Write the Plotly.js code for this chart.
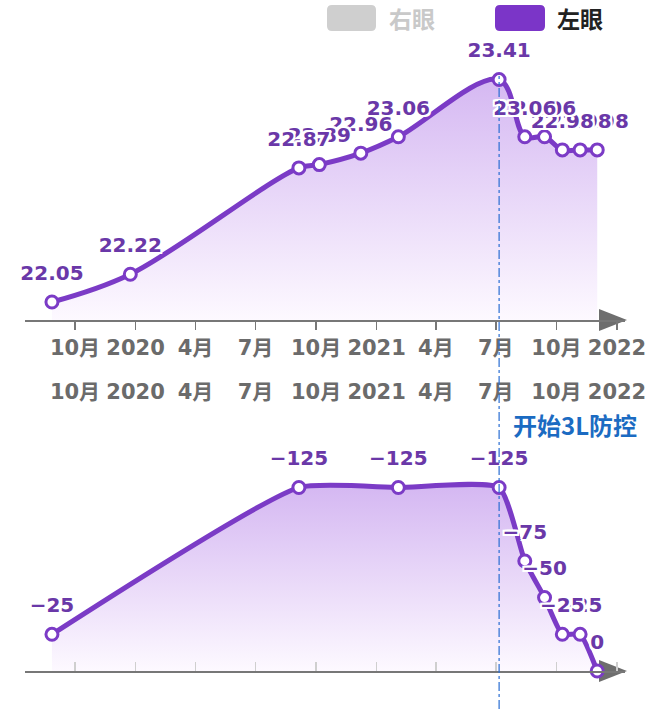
<!DOCTYPE html>
<html>
<head>
<meta charset="utf-8">
<script src="https://cdn.plot.ly/plotly-3.0.1.min.js"></script>
<style>
  html, body { margin: 0; padding: 0; background: #fff; }
  #chart { width: 651px; height: 709px; }
</style>
</head>
<body>
<div id="chart"></div>
<script>
// upper panel: left eye axial length (mm)
const leftDates = ['2019-08-27', '2019-12-24', '2020-09-05', '2020-10-06', '2020-12-08', '2021-02-03',
                   '2021-07-06', '2021-08-14', '2021-09-13', '2021-10-10', '2021-11-06', '2021-12-02'];
const leftAxial = [22.05, 22.22, 22.87, 22.89, 22.96, 23.06, 23.41, 23.06, 23.06, 22.98, 22.98, 22.98];

// lower panel
const lowerDates = ['2019-08-27', '2020-09-05', '2021-02-03', '2021-07-06', '2021-08-14',
                    '2021-09-13', '2021-10-10', '2021-11-06', '2021-12-02'];
const lowerValues = [-25, -125, -125, -125, -75, -50, -25, -25, 0];

const tickDates = ['2019-10-01', '2020-01-01', '2020-04-01', '2020-07-01', '2020-10-01',
                   '2021-01-01', '2021-04-01', '2021-07-01', '2021-10-01', '2022-01-01'];
const tickLabels = ['10月', '2020', '4月', '7月', '10月', '2021', '4月', '7月', '10月', '2022'];
const legendNames = ['右眼', '左眼'];
const startDate = '2021-07-06';
const noteText = '开始3L防控';

const W = 651, H = 709;
const px = x => x / W;
const py = y => 1 - y / H;

const purple = '#7b3bc6';
const labelPurple = '#6a38a8';
const xRange = ['2019-07-17 02:00', '2022-01-13 04:00'];
const tickFont = { family: 'DejaVu Sans, Noto Sans CJK SC', size: 21, weight: 'bold', color: '#6b6b6b' };
const halo = ['2px 0 0 #fff', '-2px 0 0 #fff', '0 2px 0 #fff', '0 -2px 0 #fff',
              '2px 2px 0 #fff', '-2px -2px 0 #fff', '2px -2px 0 #fff', '-2px 2px 0 #fff'].join(', ');

function lineTrace(x, y, xa, ya, start, stop, smooth, clip) {
  return {
    type: 'scatter', mode: 'lines+markers', x: x, y: y, xaxis: xa, yaxis: ya,
    line: { color: purple, width: 5, shape: 'spline', smoothing: smooth },
    marker: { size: 12, color: '#fff', line: { color: purple, width: 3 } },
    fill: 'tozeroy',
    fillgradient: { type: 'vertical', start: start, stop: stop,
                    colorscale: [[0, '#fdf9ff'], [1, '#d5b8f2']] },
    cliponaxis: clip, hoverinfo: 'skip'
  };
}

// labels drawn last-to-first so earlier ones sit on top, like the original
function labelTrace(x, y, fmt, xa, ya) {
  const xr = x.slice().reverse(), yr = y.slice().reverse();
  return {
    type: 'scatter', mode: 'markers+text', x: xr, y: yr, xaxis: xa, yaxis: ya,
    text: yr.map(fmt), textposition: 'top center',
    marker: { size: 26, opacity: 0 },
    textfont: { family: 'DejaVu Sans', size: 20, weight: 'bold', color: labelPurple, shadow: halo },
    cliponaxis: false, hoverinfo: 'skip'
  };
}

const data = [
  lineTrace(leftDates, leftAxial, 'x', 'y', 21.94, 23.41, 1, true),
  labelTrace(leftDates, leftAxial, v => v.toFixed(2), 'x', 'y'),
  lineTrace(lowerDates, lowerValues, 'x2', 'y2', 0, -125, 0.5, false),
  labelTrace(lowerDates, lowerValues, v => (v < 0 ? '\u2212' + Math.abs(v) : String(v)), 'x2', 'y2'),
  { type: 'scatter', mode: 'none', x: [], y: [], xaxis: 'x3', yaxis: 'y2', hoverinfo: 'skip' }
];

function roundRect(x0, y0, x1, y1, r) {
  const P = (x, y) => px(x) + ',' + py(y);
  return 'M' + P(x0 + r, y0) + ' L' + P(x1 - r, y0) + ' Q' + P(x1, y0) + ' ' + P(x1, y0 + r) +
         ' L' + P(x1, y1 - r) + ' Q' + P(x1, y1) + ' ' + P(x1 - r, y1) +
         ' L' + P(x0 + r, y1) + ' Q' + P(x0, y1) + ' ' + P(x0, y1 - r) +
         ' L' + P(x0, y0 + r) + ' Q' + P(x0, y0) + ' ' + P(x0 + r, y0) + ' Z';
}
function arrowHead(yAxisLine) {
  return 'M' + px(627) + ',' + py(yAxisLine) + ' L' + px(599) + ',' + py(yAxisLine - 11) +
         ' L' + px(599) + ',' + py(yAxisLine + 11) + ' Z';
}

const xDomain = [px(25), px(625)];
const baseX = {
  type: 'date', domain: xDomain, range: xRange, showgrid: false, zeroline: false,
  tickvals: tickDates, ticktext: tickLabels, tickfont: tickFont, fixedrange: true
};

const layout = {
  width: W, height: H,
  margin: { l: 0, r: 0, t: 0, b: 0 },
  paper_bgcolor: '#fff', plot_bgcolor: 'rgba(0,0,0,0)',
  showlegend: false, hovermode: false,
  xaxis: Object.assign({}, baseX, {
    anchor: 'y', showline: true, linecolor: '#777', linewidth: 2,
    ticks: 'outside', ticklen: 8, tickwidth: 1.5, tickcolor: '#777'
  }),
  yaxis: { domain: [py(320), py(30)], range: [21.94, 23.713], visible: false, fixedrange: true },
  xaxis2: Object.assign({}, baseX, {
    anchor: 'y2', showline: true, linecolor: '#777', linewidth: 2,
    ticks: 'inside', ticklen: 9, tickwidth: 1.5, tickcolor: '#cfcfcf', showticklabels: false
  }),
  yaxis2: { domain: [py(671), py(440)], range: [0, -157.4], visible: false, fixedrange: true },
  xaxis3: Object.assign({}, baseX, {
    overlaying: 'x2', anchor: 'free', position: py(377), showline: false, ticks: ''
  }),
  shapes: [
    { type: 'line', xref: 'x', yref: 'paper', x0: startDate, x1: startDate, y0: 0, y1: py(76),
      line: { color: '#2a6dd2', width: 1.2, dash: 'dashdot' }, layer: 'above' },
    { type: 'path', xref: 'paper', yref: 'paper', path: arrowHead(320),
      fillcolor: '#6e6e6e', line: { width: 0 }, layer: 'below' },
    { type: 'path', xref: 'paper', yref: 'paper', path: arrowHead(671),
      fillcolor: '#6e6e6e', line: { width: 0 }, layer: 'below' },
    { type: 'path', xref: 'paper', yref: 'paper', path: roundRect(327, 5, 376, 31, 5),
      fillcolor: '#cfcfcf', line: { width: 0 } },
    { type: 'path', xref: 'paper', yref: 'paper', path: roundRect(495, 5, 545, 31, 5),
      fillcolor: '#7b35c8', line: { width: 0 } }
  ],
  annotations: [
    { xref: 'paper', yref: 'paper', x: px(387), y: py(18), xanchor: 'left', yanchor: 'middle',
      text: legendNames[0], showarrow: false,
      font: { family: 'Noto Sans CJK SC', size: 23, weight: 'bold', color: '#c9c9c9' } },
    { xref: 'paper', yref: 'paper', x: px(555), y: py(18), xanchor: 'left', yanchor: 'middle',
      text: legendNames[1], showarrow: false,
      font: { family: 'Noto Sans CJK SC', size: 23, weight: 'bold', color: '#222' } },
    { xref: 'paper', yref: 'paper', x: px(511), y: py(425), xanchor: 'left', yanchor: 'middle',
      text: noteText, showarrow: false,
      font: { family: 'Noto Sans CJK SC', size: 24, weight: 'bold', color: '#1b6bc2' } }
  ]
};

Plotly.newPlot('chart', data, layout, { displayModeBar: false, staticPlot: true });
</script>
</body>
</html>
